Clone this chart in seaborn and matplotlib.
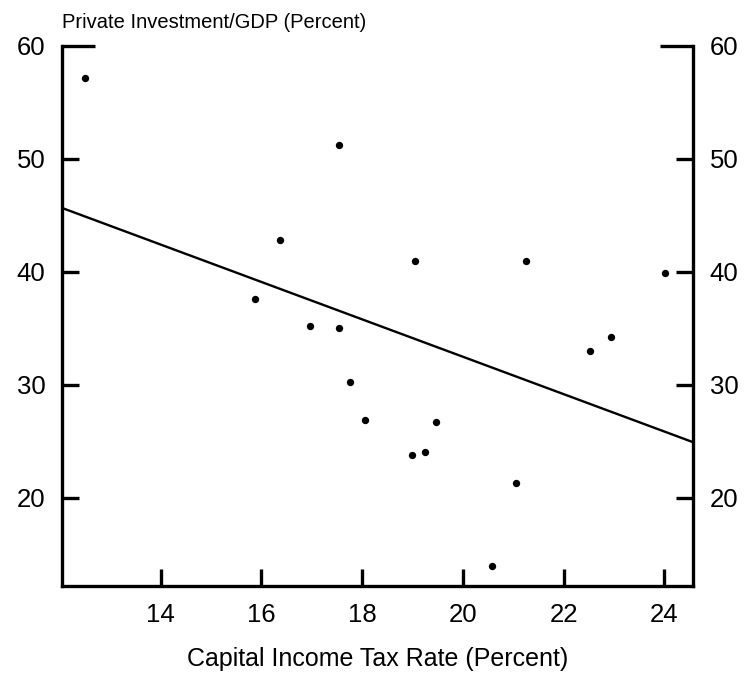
import matplotlib
matplotlib.use("Agg")
import matplotlib.pyplot as plt
import seaborn as sns
import pandas as pd

# Capital income tax rate vs. private investment share of GDP
tax_rate = [12.50, 17.54, 16.36, 19.04, 21.25, 15.87, 16.96, 17.55, 17.76,
            18.06, 19.46, 18.99, 19.25, 21.06, 20.57, 22.53, 22.95, 24.02]
investment = [57.2, 51.2, 42.8, 41.0, 40.95, 37.6, 35.25, 35.0, 30.3,
              26.9, 26.7, 23.8, 24.05, 21.3, 14.0, 33.0, 34.2, 39.9]

x_ticks = [14, 16, 18, 20, 22, 24]
y_ticks = [20, 30, 40, 50, 60]

sns.set_style("ticks")
plt.rcParams["font.family"] = ["Liberation Sans", "DejaVu Sans"]
plt.rcParams["text.color"] = "black"
plt.rcParams["axes.labelcolor"] = "black"

W, H = 744, 675
fig = plt.figure(figsize=(W / 100, H / 100), dpi=100)
ax = fig.add_axes([62 / W, 89 / H, 631 / W, 540 / H])
ax.set_xlim(12.04, 24.57)
ax.set_ylim(12.2, 60)

df = pd.DataFrame({"tax": tax_rate, "inv": investment})
sns.regplot(data=df, x="tax", y="inv", ax=ax, ci=None, truncate=False,
            scatter_kws=dict(s=28, color="black", alpha=1, linewidths=0),
            line_kws=dict(color="black", lw=1.7))
ax.set_xlim(12.04, 24.57)
ax.set_ylim(12.2, 60)

ax.set_xticks(x_ticks)
ax.set_yticks(y_ticks)
ax.spines["top"].set_visible(False)
for side in ("left", "right", "bottom"):
    ax.spines[side].set_linewidth(2.4)
    ax.spines[side].set_color("black")

ax.tick_params(axis="both", direction="in", length=12, width=2.4,
               labelsize=18.5, colors="black", labelcolor="black")
ax.tick_params(axis="x", pad=12, top=False)
ax.tick_params(axis="y", pad=12, right=True, labelright=True)

# The top tick closes the frame, so it reaches further in
top_tick = ax.yaxis.get_major_ticks()[-1]
top_tick.tick1line.set_markersize(24)
top_tick.tick2line.set_markersize(24)

ax.set_xlabel("")
ax.set_ylabel("")
fig.text((62 + 693) / 2 / W, 1 - 666 / H, "Capital Income Tax Rate (Percent)",
         fontsize=18, color="black", ha="center", va="baseline")
fig.text(62 / W, 1 - 28.5 / H, "Private Investment/GDP (Percent)",
         fontsize=14.5, color="black", ha="left", va="baseline")

fig.savefig("out.png", dpi=100)
